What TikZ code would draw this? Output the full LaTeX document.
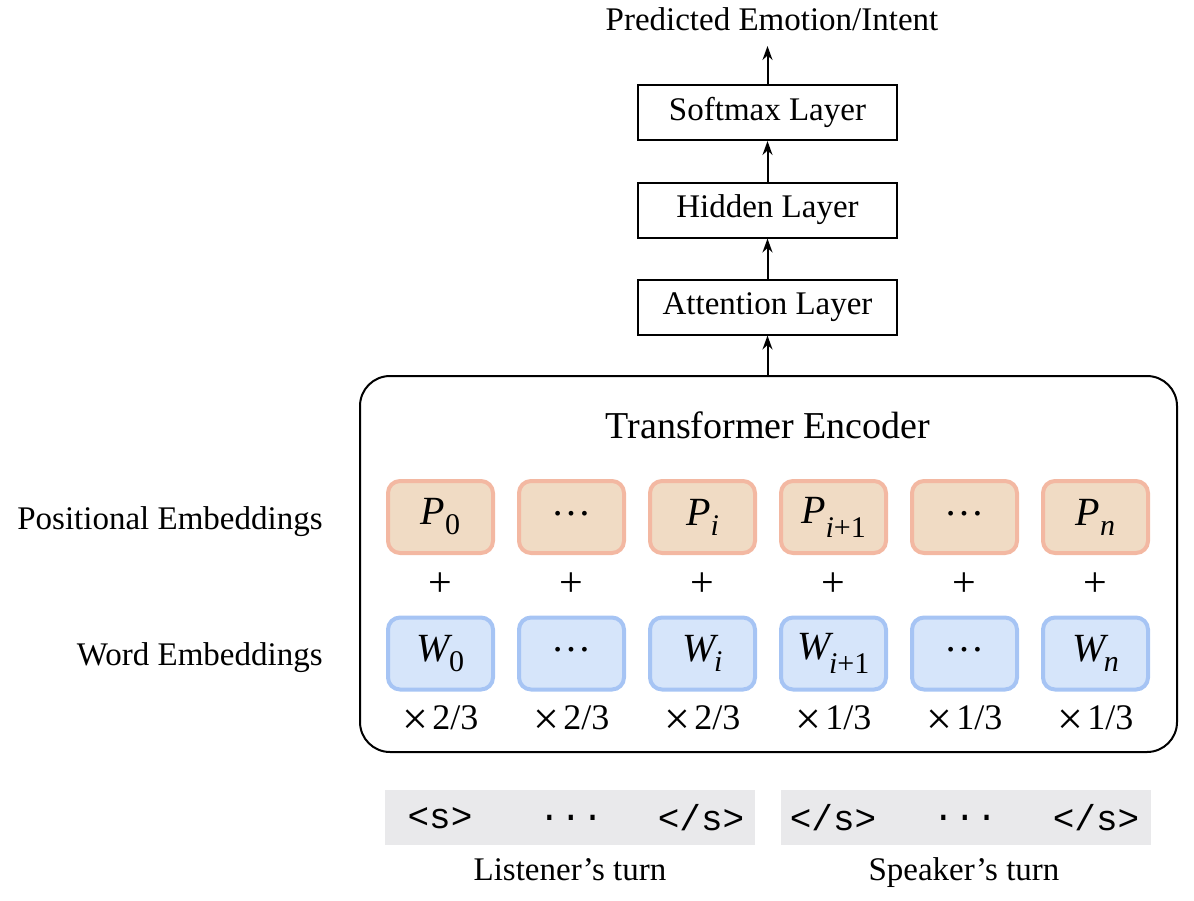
\documentclass[tikz,border=0pt]{standalone}
\usepackage{fontspec}
\setmainfont{Liberation Serif}
\setmonofont{Liberation Mono}
\usetikzlibrary{arrows.meta}
\definecolor{pfill}{HTML}{F0DBC4}
\definecolor{pline}{HTML}{F3B8A2}
\definecolor{wfill}{HTML}{D6E5FA}
\definecolor{wline}{HTML}{A6C4F4}
\definecolor{tokbg}{HTML}{E9E9EB}
\newcommand{\sbx}[2][5pt]{\raisebox{-#1}{\fontsize{15}{15}\selectfont #2}}
\newcommand{\dotsbox}{\raisebox{0.2em}{…}}
\newcommand{\timesx}{\raisebox{-2.5pt}{\fontsize{23}{23}\selectfont ×}}
\tikzset{
  base/.style={font=\fontsize{16.5}{20}\selectfont, inner sep=0pt},
  layer/.style={base, draw, line width=1pt, minimum width=129.5pt, minimum height=27.5pt},
  pemb/.style={font=\fontsize{20}{22}\selectfont, inner sep=0pt, draw=pline, fill=pfill, line width=2pt, rounded corners=6pt, minimum width=52.5pt, minimum height=36pt},
  wemb/.style={pemb, draw=wline, fill=wfill},
  tokbar/.style={fill=tokbg, inner sep=0pt, minimum width=185pt, minimum height=27.5pt},
  tok/.style={font=\fontsize{18}{20}\ttfamily, inner sep=0pt},
  flow/.style={line width=1pt, -{Stealth[length=7pt,width=5pt]}}
}
\begin{document}
\begin{tikzpicture}[x=0.5pt,y=-0.5pt]
\useasboundingbox (0,0) rectangle (1194,900);
% top stack
\node[base, anchor=base] (out) at (772,30) {Predicted Emotion/Intent};
\node[layer] (soft) at (767.5,112.5) {Softmax Layer};
\node[layer] (hid) at (767.5,210) {Hidden Layer};
\node[layer] (att) at (767.5,307) {Attention Layer};
% encoder
\node[draw, line width=1pt, rounded corners=15pt, minimum width=408.5pt, minimum height=188pt, inner sep=0pt] (enc) at (768.5,564) {};
\node[base, font=\fontsize{19}{21}\selectfont, anchor=base] (enctitle) at (768,438) {Transformer Encoder};
\draw[flow] (enc.north -| att.south) -- (att.south);
\draw[flow] (att) -- (hid);
\draw[flow] (hid) -- (soft);
\draw[flow] (soft.north) -- ([yshift=-8pt]soft.north |- out.base);
% side labels
\node[base, anchor=base east] (plab) at (323,529) {Positional Embeddings};
\node[base, anchor=base east] (wlab) at (323,665) {Word Embeddings};
% embeddings
\node[pemb] (p0) at (440.5,517) {\textit{P}\sbx{0}};
\node[pemb] (p1) at (571.5,517) {\dotsbox};
\node[pemb] (p2) at (702.5,517) {\textit{P}\sbx{\textit{i}}};
\node[pemb] (p3) at (833.5,517) {\textit{P}\sbx[7pt]{\textit{i}+1}};
\node[pemb] (p4) at (964.5,517) {\dotsbox};
\node[pemb] (p5) at (1095.5,517) {\textit{P}\sbx{\textit{n}}};
\node[wemb] (w0) at (440.5,653.5) {\textit{W}\kern-0.1em\sbx{0}};
\node[wemb] (w1) at (571.5,653.5) {\dotsbox};
\node[wemb] (w2) at (702.5,653.5) {\textit{W}\kern-0.12em\sbx{\textit{i}}};
\node[wemb] (w3) at (833.5,653.5) {\textit{W}\kern-0.12em\sbx[7pt]{\textit{i}+1}};
\node[wemb] (w4) at (964.5,653.5) {\dotsbox};
\node[wemb] (w5) at (1095.5,653.5) {\textit{W}\kern-0.12em\sbx{\textit{n}}};
\foreach \i/\x in {0/440.5,1/571.5,2/702.5,3/833.5,4/964.5,5/1095.5}{
  \node[base, font=\fontsize{21}{22}\selectfont] (plus\i) at (\x,585) {+};
}
\foreach \i/\x/\f in {0/440.5/2,1/571.5/2,2/702.5/2,3/833.5/1,4/964.5/1,5/1095.5/1}{
  \node[base, font=\fontsize{18}{20}\selectfont, anchor=base] (mul\i) at (\x,729) {\timesx\hspace{0.1em}\f/3};
}
% token bars
\node[tokbar] (lbar) at (570,817.5) {};
\node[tokbar] (sbar) at (965.5,817.5) {};
\node[tok] (t0) at (440,818) {<s>};
\node[tok] (t1) at (571,818) {...};
\node[tok] (t2) at (701,818) {</s>};
\node[tok] (t3) at (833,818) {</s>};
\node[tok] (t4) at (965,818) {...};
\node[tok] (t5) at (1096,818) {</s>};
\node[base, anchor=base] (lturn) at (570,880) {Listener’s turn};
\node[base, anchor=base] (sturn) at (964,880) {Speaker’s turn};
\end{tikzpicture}
\end{document}
